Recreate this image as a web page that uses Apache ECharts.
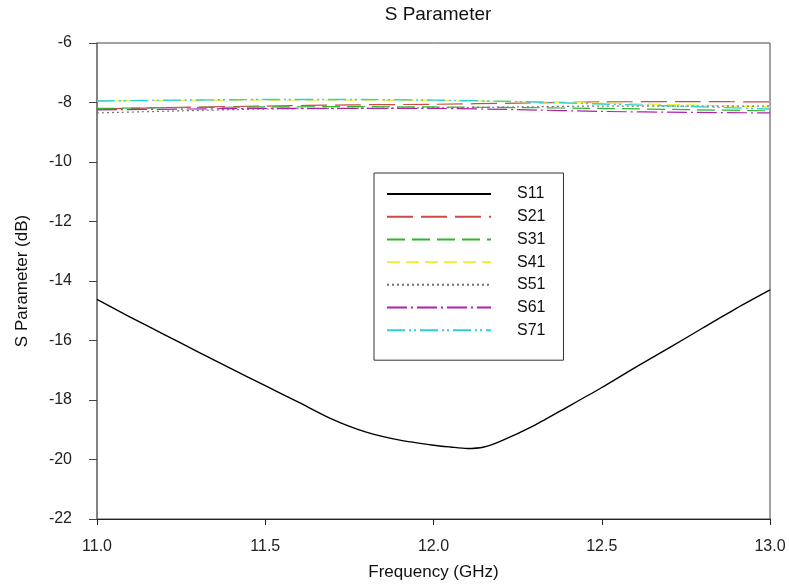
<!DOCTYPE html>
<html>
<head>
<meta charset="utf-8">
<script src="https://cdn.jsdelivr.net/npm/echarts@6/dist/echarts.min.js"></script>
<style>
  html, body { margin: 0; padding: 0; background: #fff; }
  #chart { width: 789px; height: 586px; }
</style>
</head>
<body>
<div id="chart"></div>
<script>
// Frequency sweep (GHz)
const freqS11 = [11.0, 11.1, 11.2, 11.3, 11.4, 11.5, 11.6, 11.7, 11.8, 11.9, 12.0, 12.05, 12.1, 12.15, 12.2, 12.3, 12.4, 12.5, 12.6, 12.7, 12.8, 12.9, 13.0];
const s11 = [-14.62, -15.22, -15.80, -16.38, -16.95, -17.52, -18.08, -18.65, -19.08, -19.35, -19.52, -19.58, -19.63, -19.58, -19.38, -18.85, -18.22, -17.58, -16.90, -16.25, -15.58, -14.92, -14.30];

const freqCoupling = [11.0, 11.25, 11.5, 11.75, 12.0, 12.25, 12.5, 12.75, 13.0];
const s21 = [-8.22, -8.16, -8.12, -8.08, -8.06, -8.02, -7.98, -7.97, -7.98];
const s31 = [-8.20, -8.17, -8.15, -8.14, -8.15, -8.17, -8.20, -8.24, -8.28];
const s41 = [-7.95, -7.93, -7.92, -7.92, -7.93, -7.97, -8.02, -8.08, -8.15];
const s51 = [-8.35, -8.28, -8.22, -8.20, -8.18, -8.15, -8.12, -8.12, -8.12];
const s61 = [-8.25, -8.22, -8.20, -8.20, -8.20, -8.24, -8.30, -8.33, -8.35];
const s71 = [-7.95, -7.92, -7.90, -7.90, -7.92, -7.97, -8.05, -8.13, -8.22];

function pairs(xs, ys) { return xs.map((x, i) => [x, ys[i]]); }

const seriesDefs = [
  { name: 'S11', x: freqS11, y: s11, color: '#000000', width: 1.4, type: 'solid' },
  { name: 'S21', x: freqCoupling, y: s21, color: '#d04848', width: 1.2, type: [26, 8] },
  { name: 'S31', x: freqCoupling, y: s31, color: '#28b828', width: 1.2, type: [18, 7] },
  { name: 'S41', x: freqCoupling, y: s41, color: '#f0f040', width: 1.4, type: [13, 6] },
  { name: 'S51', x: freqCoupling, y: s51, color: '#707070', width: 1.2, type: [2, 3] },
  { name: 'S61', x: freqCoupling, y: s61, color: '#b020b0', width: 1.2, type: [20, 4, 2, 4] },
  { name: 'S71', x: freqCoupling, y: s71, color: '#30d0d0', width: 1.4, type: [18, 4, 2, 3, 2, 4] }
];

const fontFamily = '"Liberation Sans", Arial, sans-serif';
const chart = echarts.init(document.getElementById('chart'), null, { renderer: 'canvas' });

chart.setOption({
  animation: false,
  backgroundColor: '#ffffff',
  textStyle: { fontFamily: fontFamily },
  title: {
    text: 'S Parameter',
    left: 433, top: 0, textAlign: 'center',
    textStyle: { fontFamily: fontFamily, fontSize: 19, fontWeight: 'normal', color: '#111' }
  },
  grid: {
    left: 97, right: 19, top: 43, bottom: 65,
    show: true, borderColor: '#444', borderWidth: 1, backgroundColor: 'transparent'
  },
  legend: {
    orient: 'vertical',
    left: 374, top: 173,
    padding: [13, 18, 22, 12],
    itemWidth: 104, itemHeight: 14, itemGap: 6.7,
    backgroundColor: '#fff',
    borderColor: '#333', borderWidth: 1,
    itemStyle: { color: 'transparent', borderColor: 'transparent', borderWidth: 0 },
    textStyle: { fontFamily: fontFamily, fontSize: 16, color: '#111', padding: [0, 0, 0, 21] },
    data: seriesDefs.map(s => s.name)
  },
  xAxis: {
    type: 'value', min: 11, max: 13, interval: 0.5,
    name: 'Frequency (GHz)', nameLocation: 'middle', nameGap: 45,
    nameTextStyle: { fontFamily: fontFamily, fontSize: 17, color: '#111' },
    axisLine: { show: true, onZero: false, lineStyle: { color: '#222', width: 1 } },
    axisTick: { show: true, length: 6, lineStyle: { color: '#222' } },
    axisLabel: { fontFamily: fontFamily, fontSize: 16, color: '#222', margin: 20,
      formatter: v => v.toFixed(1) },
    splitLine: { show: false }
  },
  yAxis: {
    type: 'value', min: -22, max: -6, interval: 2,
    name: 'S Parameter (dB)', nameLocation: 'middle', nameGap: 66, nameRotate: 90,
    nameTextStyle: { fontFamily: fontFamily, fontSize: 17, color: '#111' },
    axisLine: { show: true, onZero: false, lineStyle: { color: '#777', width: 1.5 } },
    axisTick: { show: true, length: 8, lineStyle: { color: '#444' } },
    axisLabel: { fontFamily: fontFamily, fontSize: 16, color: '#222', margin: 25 },
    splitLine: { show: false }
  },
  series: seriesDefs.map(s => ({
    name: s.name,
    type: 'line',
    data: pairs(s.x, s.y),
    smooth: 0.25,
    symbol: 'none',
    color: s.color,
    lineStyle: { color: s.color, width: s.width, type: s.type }
  }))
});
</script>
</body>
</html>
